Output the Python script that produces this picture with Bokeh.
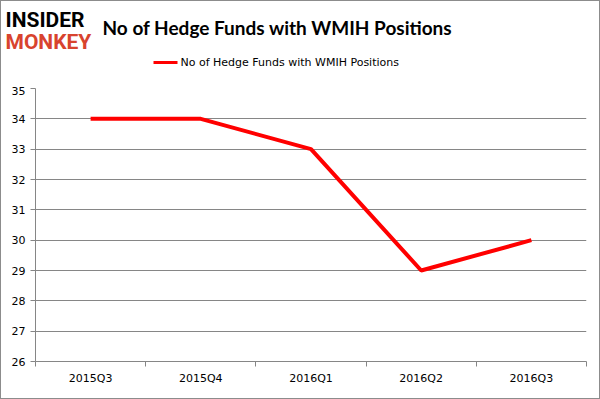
from bokeh.plotting import figure
from bokeh.models import FixedTicker, Range1d
from bokeh.layouts import column
from bokeh.core.properties import value
from bokeh.embed import file_html
from bokeh.resources import INLINE

categories = ["2015Q3", "2015Q4", "2016Q1", "2016Q2", "2016Q3"]
funds = [34, 34, 33, 29, 30]
y_ticks = [26, 27, 28, 29, 30, 31, 32, 33, 34, 35]
title_text = "No of Hedge Funds with WMIH Positions"
series_name = "No of Hedge Funds with WMIH Positions"

xs = [i + 0.5 for i in range(len(categories))]

W = 598
HEAD_H = 85
MAIN_H = 312

# ---- header (logo, title, legend) ----
h = figure(width=W, height=HEAD_H, output_backend="svg", toolbar_location=None,
           x_range=Range1d(0, W), y_range=Range1d(HEAD_H, 0),
           x_axis_location=None, y_axis_location=None, min_border=0)
h.frame_align = False
h.grid.visible = False
h.outline_line_color = None
h.border_fill_color = "white"

h.text(x=[4], y=[18], text=["INSIDER"], text_font=value("Roboto"), text_font_style="bold",
       text_font_size="21px", text_baseline="middle", text_color="black")
h.text(x=[4], y=[40], text=["MONKEY"], text_font=value("Roboto"), text_font_style="bold",
       text_font_size="21px", text_baseline="middle", text_color="#d8432e")
h.text(x=[101], y=[26], text=[title_text], text_font=value("Lato"), text_font_style="bold",
       text_font_size="19px", text_baseline="middle", text_color="black")
h.line(x=[152, 176], y=[61, 61], line_color="#ff0000", line_width=3)
h.text(x=[179], y=[61], text=[series_name], text_font=value("DejaVu Sans"),
       text_font_size="11px", text_baseline="middle", text_color="black")

# ---- main chart ----
p = figure(width=W, height=MAIN_H, output_backend="svg", toolbar_location=None,
           x_range=Range1d(0, len(categories)), y_range=Range1d(26, 35),
           min_border_left=34, min_border_right=13, min_border_top=2, min_border_bottom=37)
p.frame_align = False
p.outline_line_color = None
p.background_fill_color = "white"
p.border_fill_color = "white"

p.line(xs, funds, line_color="#ff0000", line_width=4)

grid_color = "#868686"
p.xgrid.visible = False
p.ygrid.grid_line_color = grid_color
p.ygrid.ticker = FixedTicker(ticks=y_ticks)

p.yaxis.ticker = FixedTicker(ticks=y_ticks)
p.yaxis.axis_line_color = grid_color
p.yaxis.major_tick_line_color = grid_color
p.yaxis.major_tick_out = 5
p.yaxis.major_tick_in = 0
p.yaxis.minor_tick_line_color = None
p.yaxis.major_label_text_font = "DejaVu Sans"
p.yaxis.major_label_text_font_size = "11px"
p.yaxis.major_label_text_color = "black"
p.yaxis.major_label_standoff = 5

p.xaxis.ticker = FixedTicker(ticks=xs, minor_ticks=list(range(len(categories) + 1)))
p.xaxis.major_label_overrides = {x: c for x, c in zip(xs, categories)}
p.xaxis.axis_line_color = grid_color
p.xaxis.major_tick_line_color = None
p.xaxis.major_tick_out = 0
p.xaxis.minor_tick_line_color = grid_color
p.xaxis.minor_tick_out = 5
p.xaxis.minor_tick_in = 0
p.xaxis.major_label_text_font = "DejaVu Sans"
p.xaxis.major_label_text_font_size = "11px"
p.xaxis.major_label_text_color = "black"
p.xaxis.major_label_standoff = 5

layout = column(h, p, spacing=0)
layout.styles = {"border": "1px solid #8c8c8c", "background-color": "white"}

open("out.html", "w").write(file_html(layout, INLINE))
